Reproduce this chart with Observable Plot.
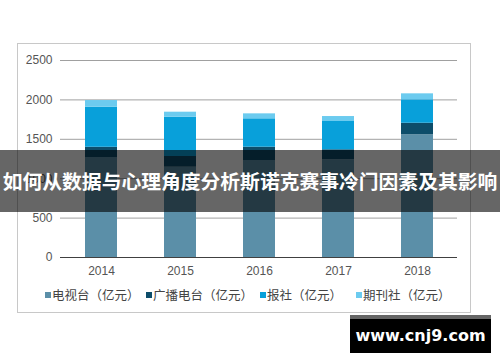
<!DOCTYPE html>
<html>
<head>
<meta charset="utf-8">
<script src="https://cdn.jsdelivr.net/npm/d3@7"></script>
<script src="https://cdn.jsdelivr.net/npm/@observablehq/plot@0.6"></script>
<style>
  html, body { margin: 0; padding: 0; background: #fff; }
  #wrap { position: relative; width: 500px; height: 362px; overflow: hidden; font-family: "Liberation Sans", Arial, "Noto Sans CJK SC", sans-serif; }
  #frame { position: absolute; left: 17px; top: 43px; width: 452px; height: 268px; border: 1px solid #c8c8c8; }
  #chart { position: absolute; left: 0; top: 0; }
  .leg { position: absolute; top: 287px; font-size: 12.5px; color: #444; font-family: "Noto Sans CJK SC", sans-serif; line-height: 16px; white-space: nowrap; }
  .sw { display: inline-block; width: 6px; height: 6px; margin-right: 1px; vertical-align: 2px; }
  #overlay { position: absolute; left: 0; top: 150px; width: 500px; height: 62px; background: rgba(0,0,0,0.6); color: #fff; font-weight: bold; font-size: 19.8px; font-family: "Noto Sans CJK SC", sans-serif; text-align: center; line-height: 62px; white-space: nowrap; letter-spacing: 0px; }
  #wm { position: absolute; left: 350px; top: 315px; width: 141px; height: 38px; background: #000; border-top: 4px solid #666; box-sizing: border-box; color: #fff; font-weight: bold; font-size: 16px; font-family: "DejaVu Sans", sans-serif; text-align: center; line-height: 34px; }
</style>
</head>
<body>
<div id="wrap">
  <div id="frame"></div>
  <div id="chart"></div>
  <div id="legend"></div>
  <div id="overlay"></div>
  <div id="wm">www.cnj9.com</div>
</div>
<script>
const years = ["2014", "2015", "2016", "2017", "2018"];
const seriesNames = ["电视台（亿元）", "广播电台（亿元）", "报社（亿元）", "期刊社（亿元）"];
const tv = [1269, 1146, 1231, 1240, 1557];
const radio = [130, 136, 169, 127, 147];
const newspaper = [508, 499, 360, 359, 297];
const periodical = [85, 63, 63, 63, 76];
const colors = ["#5b8fa8", "#0d4d6a", "#08a0da", "#6ccbef"];
const yTicks = [0, 500, 1000, 1500, 2000, 2500];
const titleText = "如何从数据与心理角度分析斯诺克赛事冷门因素及其影响";

const seriesValues = [tv, radio, newspaper, periodical];
const rows = [];
seriesNames.forEach((s, si) => {
  years.forEach((y, yi) => rows.push({year: y, series: s, value: seriesValues[si][yi]}));
});

const chart = Plot.plot({
  width: 500,
  height: 280,
  marginTop: 60,
  marginBottom: 23,
  marginLeft: 60,
  marginRight: 43,
  style: {fontSize: "12px", fontFamily: "Liberation Sans, Arial, sans-serif", color: "#555", background: "transparent"},
  x: {domain: years, paddingInner: 0.6, paddingOuter: 0.3, label: null},
  y: {domain: [0, 2500], label: null},
  color: {domain: seriesNames, range: colors},
  marks: [
    Plot.ruleY(yTicks.filter(d => d > 0), {stroke: "#a0a0a0", strokeWidth: 1}),
    Plot.barY(rows, {x: "year", y: "value", fill: "series", order: seriesNames}),
    Plot.ruleY([0], {stroke: "#404040", strokeWidth: 1}),
    Plot.axisY({ticks: yTicks, tickFormat: d => String(d), tickSize: 0, tickPadding: 8, label: null, fill: "#555"}),
    Plot.axisX({tickSize: 0, tickPadding: 9, label: null, fill: "#555"})
  ]
});
document.getElementById("chart").appendChild(chart);

const legendX = [45, 146, 260, 356];
const legend = document.getElementById("legend");
seriesNames.forEach((s, i) => {
  const d = document.createElement("div");
  d.className = "leg";
  d.style.left = legendX[i] + "px";
  d.innerHTML = `<span class="sw" style="background:${colors[i]}"></span>${s}`;
  legend.appendChild(d);
});
document.getElementById("overlay").textContent = titleText;
</script>
</body>
</html>
